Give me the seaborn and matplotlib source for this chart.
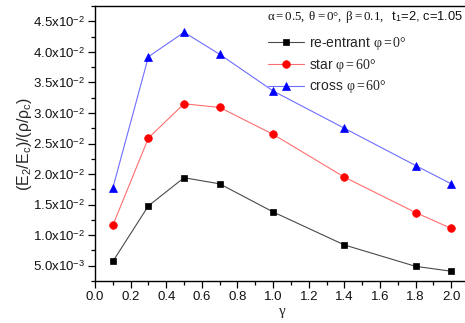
import numpy as np
import pandas as pd
import matplotlib
matplotlib.use("Agg")
import matplotlib.pyplot as plt
from matplotlib.ticker import FixedLocator, FuncFormatter, MultipleLocator
import seaborn as sns

# gamma values and normalised modulus for each lattice
gamma = [0.1, 0.3, 0.5, 0.7, 1.0, 1.4, 1.8, 2.0]
reentrant = [0.0057, 0.0148, 0.0194, 0.0184, 0.0138, 0.0084, 0.0049, 0.0041]
star = [0.0116, 0.0259, 0.0315, 0.0309, 0.0265, 0.0195, 0.0137, 0.0111]
cross = [0.0177, 0.0392, 0.0432, 0.0396, 0.0336, 0.0275, 0.0214, 0.0184]

labels = [r"re-entrant $\mathrm{φ=0°}$", r"star $\mathrm{φ=60°}$", r"cross $\mathrm{φ=60°}$"]
y_ticks = [0.005, 0.010, 0.015, 0.020, 0.025, 0.030, 0.035, 0.040, 0.045]
x_ticks = [0.0, 0.2, 0.4, 0.6, 0.8, 1.0, 1.2, 1.4, 1.6, 1.8, 2.0]

sns.set_style("ticks")
plt.rcParams["font.family"] = ["Liberation Sans", "DejaVu Sans"]
plt.rcParams["mathtext.fontset"] = "custom"
plt.rcParams["mathtext.rm"] = "Liberation Serif"
plt.rcParams["mathtext.it"] = "Liberation Serif:italic"
plt.rcParams["mathtext.sf"] = "Liberation Sans"

fig = plt.figure(figsize=(4.65, 3.23), dpi=100)
ax = fig.add_axes([95 / 465, 1 - 281 / 323, 374 / 465, 275 / 323])

series = [
    (reentrant, "#4a4a4a", "black", "s", 5.0),
    (star, "#ff6e6e", "#ff0000", "o", 5.5),
    (cross, "#6e6eff", "#0000ff", "^", 6.0),
]
for (vals, lc, mc, mk, ms), lab in zip(series, labels):
    sns.lineplot(x=gamma, y=vals, ax=ax, color=lc, lw=0.8, marker=mk,
                 markersize=ms, markerfacecolor=mc, markeredgecolor=mc,
                 markeredgewidth=0.5, label=lab)

ax.set_xlim(0.0, 2.1)
ax.set_ylim(0.0025, 0.0475)


def sci_label(v, pos=None):
    e = int(np.floor(np.log10(v)))
    m = v / 10 ** e
    return r"%.1fx10$^{\mathsf{%d}}$" % (m, e)


ax.yaxis.set_major_locator(FixedLocator(y_ticks))
ax.yaxis.set_minor_locator(MultipleLocator(0.0025))
ax.yaxis.set_major_formatter(FuncFormatter(sci_label))
ax.xaxis.set_major_locator(FixedLocator(x_ticks))
ax.xaxis.set_minor_locator(MultipleLocator(0.1))
ax.xaxis.set_major_formatter(FuncFormatter(lambda v, p: "%.1f" % v))

ax.tick_params(which="major", direction="out", length=5, width=0.9,
               labelsize=9.5, pad=2, color="black", labelcolor="#111111")
ax.tick_params(which="minor", direction="out", length=3, width=0.9, color="black")
for side in ["left", "bottom", "top"]:
    ax.spines[side].set_linewidth(1.0)
    ax.spines[side].set_color("black")
ax.spines["right"].set_visible(False)

ax.set_xlabel(r"$\mathrm{γ}$", fontsize=11, labelpad=2)
ax.set_ylabel(r"(E$_{\mathsf{2}}$/E$_{\mathsf{c}}$)/(ρ/ρ$_{\mathsf{c}}$)", fontsize=11.5)
ax.yaxis.set_label_coords((34 - 95) / 374, 0.5)

fig.text(267 / 465, 1 - 17 / 323,
         r"$\mathrm{α=0.5,\ θ=0°,\ β=0.1,}$  t$_{\mathsf{1}}$=2, c=1.05",
         fontsize=9.3, va="center", ha="left", color="#111111")

leg = ax.legend(loc="upper left", bbox_to_anchor=(258 / 465, 1 - 25 / 323),
                bbox_transform=fig.transFigure, frameon=False, fontsize=10,
                handlelength=2.6, handletextpad=0.4, labelspacing=0.35,
                borderpad=0.2)

fig.savefig("out.png", dpi=100)
